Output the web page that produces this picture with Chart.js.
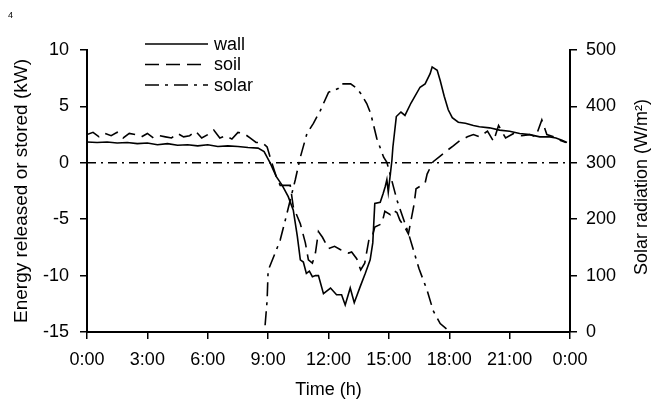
<html>
<head>
    <title>Energy released or stored</title>
    <script src="https://cdn.jsdelivr.net/npm/chart.js@4.4.0/dist/chart.umd.min.js"></script>
    <style>
        body { margin: 0; background: #fff; }
        #wrap { position: relative; width: 655px; height: 399px; }
        #pageNo { position: absolute; left: 8px; top: 10px; font: 9px "Liberation Sans", Arial, sans-serif; color: #000; }
    </style>
</head>
<body>
<div id="wrap">
    <div id="pageNo">4</div>
    <canvas id="energy" width="655" height="399"></canvas>
</div>
<script>
    // hours of day and values
    const wallHours = [0, 0.5, 1, 1.5, 2, 2.5, 3, 3.5, 4, 4.5, 5, 5.5, 6, 6.5, 7, 7.5, 8, 8.5, 8.8, 9.1, 9.4, 9.7, 10.0, 10.25,
        10.45, 10.6, 10.75, 10.9, 11.05, 11.2, 11.35, 11.5, 11.75, 12.1, 12.4, 12.65, 12.83, 13.08, 13.28, 13.57, 13.83, 14.07,
        14.2, 14.3, 14.57, 14.72, 14.82, 14.9, 14.97, 15.15, 15.2, 15.37, 15.6, 15.8, 16.1, 16.55, 16.8, 17.05, 17.15, 17.4,
        17.55, 17.75, 17.95, 18.15, 18.45, 18.8, 19.2, 19.5, 20, 20.5, 21, 21.5, 22, 22.5, 23, 23.3, 23.6, 23.85];
    const wallKW = [1.85, 1.8, 1.85, 1.75, 1.8, 1.7, 1.75, 1.6, 1.7, 1.55, 1.6, 1.5, 1.6, 1.45, 1.5, 1.45, 1.35, 1.3, 1.0, 0.0, -1.2, -2.0, -3.0, -4.2,
        -6.5, -8.6, -8.8, -9.8, -9.6, -10.1, -10.0, -10.0, -11.6, -11.1, -11.7, -11.7, -12.6, -11.1, -12.4, -11.0, -9.8, -8.6,
        -7.1, -3.6, -3.5, -2.7, -2.1, -1.5, -2.6, 0.2, 1.4, 4.1, 4.5, 4.2, 5.3, 6.7, 7.0, 7.9, 8.5, 8.2,
        7.3, 5.9, 4.7, 4.0, 3.6, 3.5, 3.3, 3.2, 3.1, 2.9, 2.8, 2.6, 2.5, 2.3, 2.3, 2.2, 2.0, 1.8];

    const soilHours = [0, 0.3, 0.6, 0.9, 1.2, 1.5, 1.8, 2.1, 2.4, 2.7, 3.0, 3.3, 3.6, 3.9, 4.2, 4.5, 4.8, 5.1, 5.4, 5.7, 6.0, 6.3,
        6.6, 6.9, 7.2, 7.5, 7.8, 8.1, 8.4, 8.7, 8.95, 9.15, 9.4, 9.6, 10.1, 10.25, 10.6, 10.85, 11.0, 11.2, 11.35, 11.5, 11.7,
        12.0, 12.3, 12.6, 13.0, 13.15, 13.4, 13.6, 13.8, 14.0, 14.15, 14.3, 14.65, 14.8, 15.07, 15.2, 15.4, 15.55, 15.75, 15.97,
        16.25, 16.35, 16.8, 16.9, 17.2, 17.55, 17.9, 18.2, 18.55, 18.9, 19.2, 19.5, 19.9, 20.2, 20.45, 20.8, 21.2, 21.6, 22.0,
        22.3, 22.6, 22.85, 23.2, 23.5, 23.8];
    const soilKW = [2.5, 2.7, 2.3, 2.6, 2.4, 2.7, 2.2, 2.6, 2.5, 2.3, 2.6, 2.2, 2.4, 2.3, 2.2, 2.6, 2.3, 2.4, 2.8, 2.2, 2.5, 2.9,
        2.2, 2.4, 2.1, 2.7, 2.6, 2.2, 1.8, 1.8, 1.4, 0.2, -1.2, -2.0, -2.0, -3.9, -5.4, -7.1, -8.6, -8.9, -8.0, -6.1, -6.6,
        -7.6, -7.4, -7.7, -8.0, -7.9, -8.5, -9.5, -8.9, -6.9, -6.7, -5.7, -5.4, -4.3, -4.6, -4.2, -4.4, -5.1, -5.6, -6.3,
        -3.7, -2.3, -1.8, -1.0, 0.1, 0.6, 1.1, 1.5, 2.0, 2.3, 2.5, 2.3, 2.8, 1.9, 3.3, 2.2, 2.6, 2.4, 2.5,
        2.3, 3.8, 2.5, 2.3, 2.0, 1.8];

    const solarHours = [8.85, 8.95, 9.0, 9.35, 9.6, 9.85, 10.1, 10.35, 10.6, 10.93, 11.25, 11.6, 12.0, 12.5, 12.65, 13.1, 13.4,
        13.6, 13.9, 14.1, 14.4, 14.74, 14.9, 15.15, 15.4, 15.98, 16.5, 16.9, 17.2, 17.55, 17.97];
    const solarW = [12, 56, 109, 140, 163, 198, 234, 270, 310, 352, 370, 393, 425, 432, 440, 440, 432,
        423, 405, 387, 343, 310, 301, 268, 234, 174, 112, 74, 38, 15, 2];

    const zeroHours = [0, 24];
    const zeroKW = [0, 0];

    const hourTicks = [0, 3, 6, 9, 12, 15, 18, 21, 24];

    const pts = (xs, ys) => xs.map((x, i) => ({ x: x, y: ys[i] }));
    const FONT = '"Liberation Sans", Arial, sans-serif';

    const legendItems = [
        { text: 'wall', dash: [] },
        { text: 'soil', dash: [14, 7] },
        { text: 'solar', dash: [14, 6, 3, 6] }
    ];

    const extras = {
        id: 'extras',
        afterDraw(chart) {
            const c = chart.ctx;
            c.save();
            // legend
            c.font = '18px ' + FONT;
            c.fillStyle = '#000';
            c.strokeStyle = '#000';
            c.lineWidth = 1.6;
            c.textBaseline = 'middle';
            legendItems.forEach((it, i) => {
                const y = 44 + i * 20.5;
                c.setLineDash(it.dash);
                c.beginPath();
                c.moveTo(145, y);
                c.lineTo(208, y);
                c.stroke();
                c.fillText(it.text, 214, y + 1);
            });
            c.setLineDash([]);
            // right axis title, reads bottom to top
            c.translate(642, 187);
            c.rotate(-Math.PI / 2);
            c.textAlign = 'center';
            c.fillText('Solar radiation (W/m\u00B2)', 0, 0);
            c.restore();
        }
    };

    const ctx = document.getElementById('energy').getContext('2d');
    new Chart(ctx, {
        type: 'line',
        data: {
            datasets: [
                {
                    label: 'zero', data: pts(zeroHours, zeroKW), yAxisID: 'y',
                    borderColor: '#000', borderWidth: 1.6, borderDash: [9, 5, 2, 5], pointRadius: 0
                },
                {
                    label: 'wall', data: pts(wallHours, wallKW), yAxisID: 'y',
                    borderColor: '#000', borderWidth: 1.6, pointRadius: 0, tension: 0
                },
                {
                    label: 'soil', data: pts(soilHours, soilKW), yAxisID: 'y',
                    borderColor: '#000', borderWidth: 1.6, borderDash: [14, 7], pointRadius: 0
                },
                {
                    label: 'solar', data: pts(solarHours, solarW), yAxisID: 'y1',
                    borderColor: '#000', borderWidth: 1.6, borderDash: [14, 6, 3, 6], pointRadius: 0
                }
            ]
        },
        options: {
            responsive: false,
            animation: false,
            layout: { padding: { top: 50, left: 0, right: 0, bottom: 0 } },
            plugins: {
                legend: { display: false },
                tooltip: { enabled: false }
            },
            scales: {
                x: {
                    type: 'linear', min: 0, max: 24,
                    afterBuildTicks: (s) => { s.ticks = hourTicks.map(v => ({ value: v })); },
                    afterFit: (s) => { s.height = 67; },
                    ticks: {
                        color: '#000', font: { family: FONT, size: 18 }, padding: 10, maxRotation: 0,
                        callback: (v) => (v % 24) + ':00'
                    },
                    grid: { drawOnChartArea: false, tickLength: 7, color: '#000', lineWidth: 1.5 },
                    border: { color: '#000', width: 2 },
                    title: { display: true, text: 'Time (h)', color: '#000', font: { family: FONT, size: 18 }, padding: { top: 0, bottom: -2 } }
                },
                y: {
                    position: 'left', min: -15, max: 10,
                    afterFit: (s) => { s.width = 87; },
                    ticks: { stepSize: 5, color: '#000', font: { family: FONT, size: 18 }, padding: 11 },
                    grid: { drawOnChartArea: false, tickLength: 7, color: '#000', lineWidth: 1.5 },
                    border: { color: '#000', width: 2 },
                    title: { display: true, text: 'Energy released or stored (kW)', color: '#000', font: { family: FONT, size: 19 }, padding: { top: 10, bottom: 0 } }
                },
                y1: {
                    position: 'right', min: 0, max: 500,
                    afterFit: (s) => { s.width = 85; },
                    ticks: { stepSize: 100, color: '#000', font: { family: FONT, size: 18 }, padding: 9 },
                    grid: { drawOnChartArea: false, tickLength: 7, color: '#000', lineWidth: 1.5 },
                    border: { color: '#000', width: 2 }
                }
            }
        },
        plugins: [extras]
    });
</script>
</body>
</html>
